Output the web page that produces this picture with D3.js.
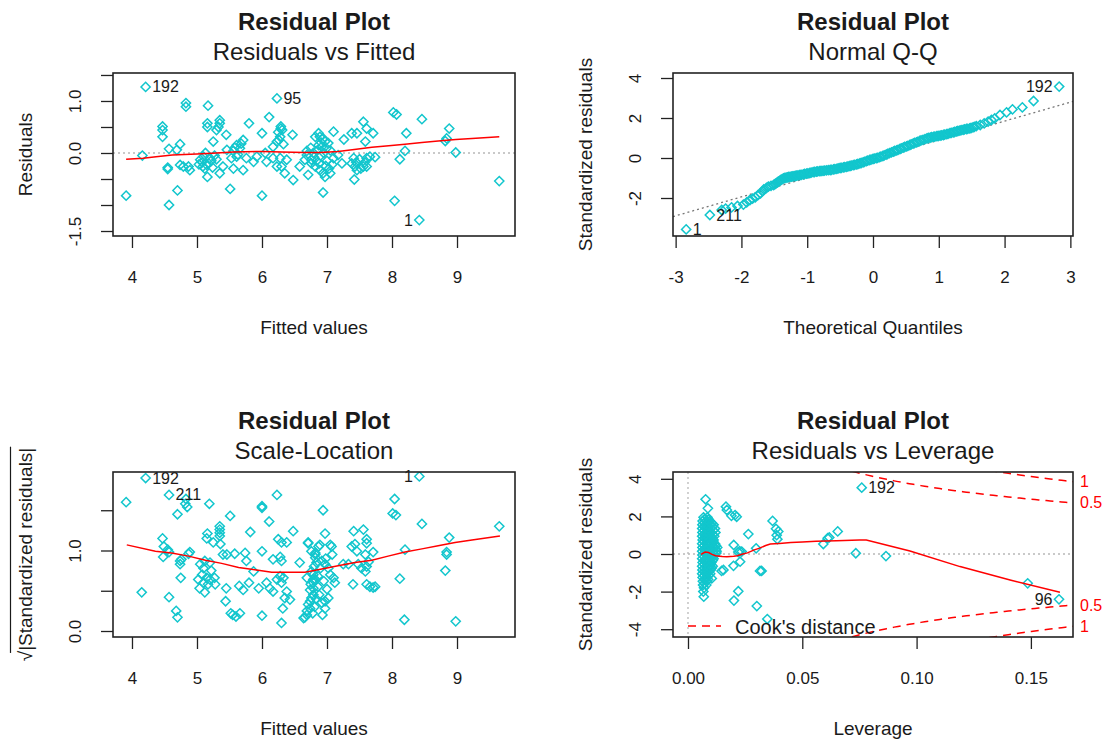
<!DOCTYPE html>
<html>
<head>
<meta charset="utf-8">
<script src="https://cdn.jsdelivr.net/npm/d3@7"></script>
<style>
  html, body { margin: 0; padding: 0; background: #fff; }
  svg { display: block; }
  text { font-family: 'Liberation Sans', Arial, Helvetica, sans-serif; fill: #1a1a1a; }
</style>
</head>
<body>
<svg id="chart" width="1107" height="742"></svg>
<script>
// ---------- Residuals vs Fitted: [fitted, residual] ----------
const rvfPoints = [
  [4.21,1.27],[6.23,1.05],[8.42,-1.29],
  [3.91,-0.82],[4.16,-0.05],[4.47,0.51],[4.47,0.44],[4.47,0.31],[4.57,0.08],[4.55,-0.31],[4.55,-0.28],
  [4.57,-1.00],[4.70,-0.72],[4.74,0.17],[4.69,0.06],[4.74,-0.23],[4.83,0.96],[4.83,0.89],[4.89,-0.33],
  [4.79,-0.26],[4.87,-0.26],[5.17,0.91],[5.16,0.57],[5.16,0.50],[5.35,0.63],[5.35,0.57],[5.33,0.50],
  [5.30,0.44],[5.25,0.22],[5.45,0.35],[5.20,-0.10],[5.10,-0.07],[5.05,-0.13],[5.15,-0.23],[5.12,-0.30],
  [5.16,-0.46],[5.35,-0.39],[5.51,-0.69],[5.40,-0.26],[5.56,0.04],[5.61,-0.07],[5.66,0.09],[5.71,0.25],
  [5.61,0.15],[5.46,0.06],[5.53,-0.10],[5.56,-0.30],[5.71,-0.33],[5.80,0.57],[5.92,-0.07],[5.87,-0.17],
  [5.76,-0.10],[6.00,-0.82],[6.00,0.38],[6.11,0.69],[6.29,0.51],[6.29,0.47],[6.28,0.31],[6.23,0.22],
  [6.33,0.17],[6.17,0.12],[6.05,0.00],[6.07,-0.17],[6.17,-0.10],[6.28,-0.10],[6.38,-0.13],[6.30,-0.26],
  [6.23,-0.26],[6.47,0.35],[6.48,-0.52],[6.35,-0.39],[6.58,-0.26],[6.71,-0.42],[6.69,0.04],[6.79,0.00],
  [6.76,-0.13],[5.08,-0.18],[5.22,-0.15],[5.27,-0.05],[5.13,0.00],[5.58,0.10],[5.63,-0.03],[5.68,0.18],
  [6.69,-0.04],[6.66,-0.13],[6.87,0.38],[6.89,0.31],[6.94,0.28],[6.97,0.22],[7.02,0.19],[7.10,0.41],
  [6.99,0.09],[6.87,0.15],[6.82,0.31],[6.76,-0.20],[6.82,-0.26],[6.89,-0.33],[6.94,-0.39],[6.97,-0.46],
  [7.05,-0.39],[6.94,-0.76],[7.10,-0.10],[7.17,-0.04],[7.23,-0.20],[7.26,0.26],[7.38,0.38],[7.46,0.38],
  [7.56,0.60],[7.61,0.47],[7.71,0.38],[7.59,0.22],[7.41,-0.10],[7.38,-0.20],[7.43,-0.26],[7.46,-0.33],
  [7.56,-0.26],[7.61,-0.10],[7.66,-0.07],[7.74,-0.08],[7.61,-0.26],[7.42,-0.51],[8.02,0.78],[8.07,0.74],
  [8.22,0.38],[8.46,0.65],[8.20,0.04],[8.12,-0.12],[8.04,-0.92],[8.82,0.23],[8.84,0.28],[8.88,0.47],
  [8.98,0.01],[9.65,-0.54],[6.85,0.05],[6.90,-0.05],[6.95,0.00],[7.00,-0.15],[6.80,-0.08],[6.92,0.12],
  [7.05,0.05],[6.75,0.10],[5.03,-0.22],[5.18,-0.20],[5.24,-0.28],[5.09,-0.26],[5.30,-0.12],[6.25,0.40],
  [6.31,0.44],[6.26,0.25],[6.84,-0.15],[6.98,-0.25],[7.03,-0.30],[6.91,0.20],[7.08,-0.22],[6.88,-0.20],
  [7.45,-0.18],[7.52,-0.30],[7.50,-0.12],[7.58,-0.18]
];
const rvfLabels = [[0, "192", "right"], [1, "95", "right"], [2, "1", "left"]];
const rvfSmooth = [
  [3.91,-0.12],[4.17,-0.10],[4.37,-0.07],[4.62,-0.04],[5.00,-0.02],[5.30,0.00],[5.56,0.02],[6.02,0.03],
  [6.30,0.02],[6.66,0.01],[6.90,0.01],[7.17,0.03],[7.45,0.07],[7.69,0.11],[7.95,0.14],[8.20,0.17],
  [8.46,0.20],[8.71,0.23],[8.98,0.26],[9.23,0.28],[9.65,0.31]
];

// ---------- Normal Q-Q: [theoretical quantile, standardized residual] ----------
const qqPoints = [
  [-2.84,-3.57],[-2.48,-2.85],[-2.30,-2.60],[-2.24,-2.53],[-2.15,-2.47],[-2.06,-2.40],[-1.97,-2.33],
  [-1.92,-2.22],[-1.87,-2.10],[-1.83,-2.03],[-1.79,-1.97],[-1.75,-1.86],[-1.71,-1.77],[-1.68,-1.66],
  [-1.66,-1.57],[-1.62,-1.50],[-1.59,-1.43],[-1.55,-1.39],[-1.51,-1.35],[-1.47,-1.26],[-1.44,-1.18],
  [-1.40,-1.10],[-1.36,-1.02],[-1.32,-0.98],[-1.28,-0.95],[-1.24,-0.93],[-1.20,-0.91],[-1.16,-0.88],
  [-1.11,-0.85],[-1.06,-0.82],[-1.01,-0.78],[-0.96,-0.75],[-0.91,-0.71],[-0.86,-0.68],[-0.81,-0.66],
  [-0.76,-0.64],[-0.71,-0.62],[-0.65,-0.60],[-0.60,-0.57],[-0.55,-0.54],[-0.50,-0.50],[-0.45,-0.47],
  [-0.40,-0.44],[-0.35,-0.40],[-0.30,-0.36],[-0.25,-0.32],[-0.20,-0.27],[-0.15,-0.22],[-0.10,-0.16],
  [-0.05,-0.10],[0.00,-0.05],[0.05,-0.01],[0.10,0.04],[0.15,0.10],[0.20,0.17],[0.25,0.24],[0.31,0.32],
  [0.36,0.38],[0.41,0.45],[0.46,0.52],[0.51,0.58],[0.56,0.65],[0.61,0.72],[0.66,0.78],[0.71,0.85],
  [0.76,0.91],[0.82,0.98],[0.87,1.02],[0.92,1.06],[0.97,1.09],[1.02,1.12],[1.07,1.15],[1.12,1.19],
  [1.17,1.24],[1.22,1.28],[1.27,1.33],[1.32,1.37],[1.37,1.41],[1.42,1.45],[1.47,1.48],[1.52,1.53],
  [1.57,1.59],[1.63,1.65],[1.69,1.73],[1.75,1.82],[1.80,1.90],[1.85,1.98],[1.93,2.15],[2.03,2.28],
  [2.12,2.43],[2.27,2.53],[2.44,2.85],[2.83,3.57],
  [-1.49,-1.31],[-1.45,-1.22],[-1.42,-1.14],[-1.38,-1.06],[-1.34,-1.00],[-1.30,-0.97],[-1.26,-0.94],
  [-1.22,-0.92],[-1.18,-0.90],[-1.14,-0.87],[-1.09,-0.84],[-1.04,-0.80],[-0.99,-0.77],[-0.94,-0.73],
  [-0.89,-0.70],[-0.84,-0.67],[-0.79,-0.65],[-0.74,-0.63],[-0.68,-0.61],[-0.63,-0.59],[-0.58,-0.56],
  [-0.53,-0.52],[-0.48,-0.49],[-0.43,-0.46],[-0.38,-0.42],[-0.33,-0.38],[-0.28,-0.34],[-0.23,-0.30],
  [-0.18,-0.25],[-0.13,-0.19],[-0.08,-0.13],[-0.03,-0.08],[0.02,-0.03],[0.07,0.01],[0.12,0.07],
  [0.17,0.13],[0.22,0.20],[0.28,0.28],[0.33,0.35],[0.38,0.41],[0.43,0.48],[0.48,0.55],[0.53,0.61],
  [0.58,0.68],[0.63,0.75],[0.68,0.81],[0.73,0.88],[0.79,0.94],[0.84,1.00],[0.89,1.04],[0.94,1.07],
  [0.99,1.10],[1.04,1.13],[1.09,1.17],[1.14,1.21],[1.19,1.26],[1.24,1.30],[1.29,1.35],[1.34,1.39],
  [1.39,1.43],[1.44,1.46],[1.49,1.50],[1.54,1.56]
];
const qqLabels = [[0, "1", "right"], [1, "211", "right"], [92, "192", "left"]];
const qqLineIntercept = -0.05;
const qqLineSlope = 0.947;

// ---------- Scale-Location: [fitted, sqrt|standardized residual|] ----------
const slPoints = [
  [4.21,1.90],[4.57,1.69],[8.42,1.92],
  [3.91,1.60],[4.83,1.64],[4.82,1.58],[4.85,1.54],[4.70,1.45],[5.19,1.58],[5.51,1.43],[6.00,1.55],
  [6.00,1.53],[6.23,1.69],[6.11,1.36],[6.48,1.24],[5.82,1.23],[4.47,1.15],[4.49,1.05],[4.48,0.92],
  [4.57,0.98],[4.55,1.01],[4.15,0.48],[4.57,0.42],[4.68,0.25],[4.70,0.17],[4.74,0.87],[4.74,0.83],
  [4.76,0.89],[4.87,0.96],[4.89,0.98],[4.75,0.66],[5.16,1.21],[5.15,1.15],[5.25,1.10],[5.35,1.30],
  [5.35,1.26],[5.35,1.22],[5.35,1.18],[5.36,1.08],[5.40,0.95],[5.46,0.95],[5.05,0.83],[5.10,0.78],
  [5.12,0.87],[5.20,0.85],[5.02,0.64],[5.10,0.60],[5.15,0.66],[5.17,0.58],[5.04,0.53],[5.20,0.64],
  [5.27,0.66],[5.44,0.37],[5.45,0.53],[5.52,0.22],[5.60,0.18],[5.66,0.22],[5.55,0.20],[5.58,0.96],
  [5.74,0.97],[5.76,0.87],[5.65,0.56],[5.71,0.51],[5.80,0.60],[5.87,0.74],[5.95,0.53],[6.00,0.99],
  [6.00,0.19],[6.07,0.60],[6.12,0.53],[6.17,0.49],[6.23,0.64],[6.28,0.68],[6.30,0.60],[6.33,0.66],
  [6.38,0.49],[6.35,0.41],[6.43,0.39],[6.32,0.28],[6.17,0.89],[6.28,0.92],[6.30,0.87],[6.25,1.14],
  [6.30,1.10],[6.38,1.10],[6.30,0.10],[6.58,0.85],[6.71,1.09],[6.69,0.66],[6.64,0.16],[6.69,0.20],
  [6.74,0.28],[6.74,0.37],[6.76,0.41],[6.79,0.45],[6.79,0.53],[6.79,0.60],[6.79,0.64],[6.79,0.70],
  [6.82,0.97],[6.82,0.91],[8.04,1.64],[8.01,1.46],[8.06,1.44],[8.46,1.33],[9.65,1.30],[6.94,1.50],
  [6.97,1.21],[6.71,1.10],[7.41,1.24],[7.56,1.26],[7.61,1.14],[7.71,0.98],[7.61,1.09],[7.43,1.08],
  [7.38,1.05],[7.46,0.99],[7.59,0.95],[8.20,1.01],[8.88,1.16],[8.84,0.98],[8.84,0.95],[8.82,0.75],
  [8.12,0.65],[8.19,0.14],[8.98,0.12],[7.40,0.58],[7.61,0.58],[7.66,0.55],[7.71,0.54],[7.74,0.55],
  [7.59,0.74],[7.61,0.80],[7.64,0.86],[7.53,0.78],[7.48,0.83],[7.33,0.83],[7.25,0.83],[6.97,0.28],
  [7.02,0.41],[6.97,0.37],[7.12,0.60],[7.10,0.66],[7.05,0.70],[7.02,0.78],[6.97,0.83],[6.92,0.87],
  [6.82,0.95],[6.76,0.99],[6.87,1.05],[6.89,1.07],[7.05,1.07],[7.07,1.05],[6.76,0.74],[6.82,0.64],
  [6.74,0.51],[6.71,0.33],[6.69,0.25],[6.66,0.17],[6.86,0.68],[6.90,0.78],[6.95,0.62],[7.00,0.52],
  [6.88,0.45],[6.92,0.35],[6.98,0.90],[7.08,0.95],[6.84,0.85],[6.93,0.20],[6.78,0.22],[6.81,0.30],
  [6.83,0.40],[6.86,0.55],[6.80,0.80],[6.75,0.58],[5.08,0.70],[5.22,0.75],[5.28,0.58],[5.12,0.48]
];
const slLabels = [[0, "192", "right"], [1, "211", "right"], [2, "1", "left"]];
const slSmooth = [
  [3.92,1.07],[4.36,0.99],[4.61,0.97],[4.87,0.93],[5.13,0.88],[5.38,0.84],[5.64,0.79],[5.89,0.76],
  [6.15,0.73],[6.41,0.73],[6.66,0.73],[6.92,0.77],[7.17,0.81],[7.43,0.85],[7.69,0.88],[7.94,0.93],
  [8.20,0.98],[8.46,1.02],[8.71,1.06],[8.97,1.10],[9.23,1.13],[9.66,1.18]
];

// ---------- Residuals vs Leverage: [leverage, standardized residual] ----------
const rvlPoints = [
  [0.0760,3.53],[0.1623,-2.41],
  [0.0077,2.91],[0.0087,2.43],
  [0.0068,1.95],[0.0085,1.95],
  [0.0064,1.75],[0.0080,1.75],[0.0095,1.75],
  [0.0063,1.55],[0.0078,1.55],[0.0098,1.55],[0.0112,1.55],
  [0.0062,1.35],[0.0080,1.35],[0.0100,1.35],[0.0118,1.35],
  [0.0063,1.15],[0.0082,1.15],[0.0102,1.15],[0.0120,1.15],
  [0.0062,0.95],[0.0078,0.95],[0.0096,0.95],[0.0115,0.95],
  [0.0064,0.75],[0.0080,0.75],[0.0100,0.75],[0.0112,0.75],
  [0.0062,0.55],[0.0082,0.55],[0.0104,0.55],[0.0118,0.55],
  [0.0063,0.35],[0.0080,0.35],[0.0098,0.35],[0.0116,0.35],[0.0128,0.35],
  [0.0062,0.15],[0.0079,0.15],[0.0096,0.15],[0.0113,0.15],[0.0125,0.15],
  [0.0063,-0.05],[0.0081,-0.05],[0.0099,-0.05],[0.0117,-0.05],
  [0.0062,-0.25],[0.0080,-0.25],[0.0100,-0.25],[0.0112,-0.25],
  [0.0064,-0.45],[0.0082,-0.45],[0.0102,-0.45],
  [0.0062,-0.65],[0.0079,-0.65],[0.0096,-0.65],[0.0108,-0.65],
  [0.0063,-0.85],[0.0081,-0.85],[0.0099,-0.85],
  [0.0062,-1.05],[0.0080,-1.05],[0.0097,-1.05],
  [0.0064,-1.25],[0.0083,-1.25],[0.0104,-1.30],
  [0.0065,-1.45],[0.0082,-1.45],
  [0.0066,-1.65],[0.0080,-1.65],
  [0.0067,-2.00],[0.0069,-2.27],
  [0.0072,1.85],[0.0090,1.85],
  [0.0071,1.65],[0.0088,1.65],[0.0104,1.65],
  [0.0070,1.45],[0.0089,1.45],[0.0106,1.45],
  [0.0071,1.25],[0.0090,1.25],[0.0110,1.25],
  [0.0070,1.05],[0.0088,1.05],[0.0108,1.05],
  [0.0071,0.85],[0.0089,0.85],[0.0106,0.85],
  [0.0070,0.65],[0.0091,0.65],[0.0110,0.65],
  [0.0071,0.45],[0.0089,0.45],[0.0108,0.45],[0.0122,0.45],
  [0.0070,0.25],[0.0088,0.25],[0.0106,0.25],[0.0121,0.25],
  [0.0072,0.05],[0.0090,0.05],[0.0108,0.05],[0.0124,0.05],
  [0.0071,-0.15],[0.0089,-0.15],[0.0106,-0.15],
  [0.0070,-0.35],[0.0090,-0.35],[0.0108,-0.35],
  [0.0071,-0.55],[0.0088,-0.55],[0.0100,-0.55],
  [0.0072,-0.75],[0.0089,-0.75],[0.0104,-0.75],
  [0.0070,-0.95],[0.0088,-0.95],
  [0.0071,-1.15],[0.0090,-1.15],
  [0.0073,-1.35],[0.0088,-1.35],
  [0.0072,-1.55],[0.0070,-1.80],
  [0.0076,1.40],[0.0094,1.10],[0.0075,0.80],[0.0094,0.50],[0.0076,0.20],[0.0094,-0.10],
  [0.0075,-0.40],[0.0094,-0.70],[0.0076,-1.00],[0.0077,-1.30],[0.0094,1.70],[0.0076,1.00],
  [0.0166,2.52],[0.0170,2.34],[0.0206,2.07],[0.0213,1.98],[0.0190,2.03],[0.0264,1.06],[0.0200,0.48],
  [0.0226,0.15],[0.0235,0.13],[0.0220,0.10],[0.0298,0.30],[0.0228,-0.41],[0.0199,-0.63],[0.0155,-0.85],
  [0.0147,-0.90],[0.0322,-0.90],[0.0315,-0.90],[0.0220,-1.98],[0.0201,-2.48],[0.0301,-2.77],
  [0.0347,-3.46],[0.0370,1.76],[0.0385,1.34],[0.0388,1.00],[0.0391,0.79],[0.0395,1.20],[0.0592,0.53],
  [0.0611,0.84],[0.0618,0.88],[0.0655,1.20],[0.0734,0.04],[0.0866,-0.11],[0.1486,-1.56]
];
const rvlLabels = [[0, "192", "right"], [1, "96", "left"]];
const rvlSmooth = [
  [0.0057,-0.02],[0.0075,0.10],[0.0090,0.08],[0.0105,-0.02],[0.0120,-0.09],[0.0150,-0.13],[0.0170,-0.15],
  [0.0200,-0.12],[0.0215,-0.09],[0.0240,0.00],[0.0260,0.06],[0.0290,0.22],[0.0310,0.30],[0.0340,0.45],
  [0.0360,0.53],[0.0400,0.56],[0.0450,0.61],[0.0500,0.64],[0.0560,0.68],[0.0650,0.71],[0.0750,0.74],
  [0.0780,0.74],[0.0971,0.16],[0.1190,-0.67],[0.1409,-1.38],[0.1627,-2.04]
];
const cookLevels = [0.5, 1];
const modelRank = 3;

// ---------- tick values ----------
const fittedTicks = [4, 5, 6, 7, 8, 9];
const residTicks = [-1.5, -1, -0.5, 0, 0.5, 1, 1.5];
const residTickLabels = [-1.5, 0, 1];
const qqXTicks = [-3, -2, -1, 0, 1, 2, 3];
const stdTicks = [-4, -2, 0, 2, 4];
const rootTicks = [0, 0.5, 1, 1.5];
const rootTickLabels = [0, 1];
const leverageTicks = [0, 0.05, 0.1, 0.15];

// ---------- drawing ----------
const FONT = "'Liberation Sans', Arial, Helvetica, sans-serif";
const POINT = "#12c6cd";
const RED = "#ff0000";
const GREY = "#b8b8b8";
const svg = d3.select("#chart");
svg.append("rect").attr("width", 1107).attr("height", 742).attr("fill", "#fff");

const diamond = r => `M0,${-r}L${r},0L0,${r}L${-r},0Z`;

function panel(opt) {
  const { id, left, top, width, height } = opt;
  const x = d3.scaleLinear().domain(opt.xDomain).range([left, left + width]);
  const y = d3.scaleLinear().domain(opt.yDomain).range([top + height, top]);
  const g = svg.append("g").attr("id", id);

  svg.append("clipPath").attr("id", id + "-clip")
    .append("rect").attr("x", left).attr("y", top).attr("width", width).attr("height", height);
  const plot = g.append("g").attr("clip-path", `url(#${id}-clip)`);

  // bottom axis
  const xa = g.append("g").attr("transform", `translate(0,${top + height})`)
    .call(d3.axisBottom(x).tickValues(opt.xTicks).tickSize(12).tickSizeOuter(0).tickFormat(opt.xFormat));
  xa.select(".domain").remove();
  xa.selectAll(".tick line").attr("stroke", "#222").attr("stroke-width", 1.3);
  xa.selectAll(".tick text").attr("y", 41).attr("dy", null)
    .attr("dominant-baseline", "central").attr("text-anchor", "middle")
    .style("font-size", "17px").style("font-family", FONT).attr("fill", "#1a1a1a");

  // left axis, labels parallel to the axis
  const ya = g.append("g").attr("transform", `translate(${left},0)`)
    .call(d3.axisLeft(y).tickValues(opt.yTicks).tickSize(12).tickSizeOuter(0).tickFormat(opt.yFormat));
  ya.select(".domain").remove();
  ya.selectAll(".tick line").attr("stroke", "#222").attr("stroke-width", 1.3);
  ya.selectAll(".tick text").attr("x", 0).attr("dy", null)
    .attr("transform", "translate(-38,0) rotate(-90)")
    .attr("dominant-baseline", "central").attr("text-anchor", "middle")
    .style("font-size", "17px").style("font-family", FONT).attr("fill", "#1a1a1a");

  // titles
  g.append("text").attr("x", left + width / 2).attr("y", top - 52)
    .attr("text-anchor", "middle").attr("dominant-baseline", "central")
    .style("font-size", "24px").style("font-weight", "bold").text("Residual Plot");
  g.append("text").attr("x", left + width / 2).attr("y", top - 22)
    .attr("text-anchor", "middle").attr("dominant-baseline", "central")
    .style("font-size", "24px").text(opt.caption);

  // axis titles
  g.append("text").attr("x", left + width / 2).attr("y", top + height + 91)
    .attr("text-anchor", "middle").attr("dominant-baseline", "central")
    .style("font-size", "19px").text(opt.xTitle);
  const yt = g.append("g").attr("transform", `translate(${left - 88},${top + height / 2}) rotate(-90)`);
  const ytText = yt.append("text").attr("text-anchor", "middle").attr("dominant-baseline", "central")
    .style("font-size", "19px").text(opt.yTitle);
  if (opt.radical) {
    // overbar of the square-root sign
    const node = ytText.node();
    const L = node.getComputedTextLength();
    const wr = node.getSubStringLength(0, 1);
    yt.append("line").attr("x1", -L / 2 + wr * 0.8).attr("x2", L / 2 + 1)
      .attr("y1", -14.5).attr("y2", -14.5).attr("stroke", "#1a1a1a").attr("stroke-width", 1.2);
  }

  return { x, y, g, plot, left, top, width, height };
}

function drawPoints(p, data, labels) {
  p.plot.selectAll("path.pt").data(data).join("path")
    .attr("class", "pt")
    .attr("d", diamond(4.6))
    .attr("transform", d => `translate(${p.x(d[0])},${p.y(d[1])})`)
    .attr("fill", "none").attr("stroke", POINT).attr("stroke-width", 1.5);
  p.g.selectAll("text.id").data(labels).join("text")
    .attr("class", "id")
    .attr("x", l => p.x(data[l[0]][0]) + (l[2] === "right" ? 6.5 : -6.5))
    .attr("y", l => p.y(data[l[0]][1]))
    .attr("text-anchor", l => l[2] === "right" ? "start" : "end")
    .attr("dominant-baseline", "central")
    .style("font-size", "16px").text(l => l[1]);
}

function drawSmooth(p, data) {
  p.plot.append("path").datum(data)
    .attr("d", d3.line().x(d => p.x(d[0])).y(d => p.y(d[1])))
    .attr("fill", "none").attr("stroke", RED).attr("stroke-width", 1.5);
}

function drawBox(p) {
  p.g.append("rect").attr("x", p.left).attr("y", p.top).attr("width", p.width).attr("height", p.height)
    .attr("fill", "none").attr("stroke", "#222").attr("stroke-width", 1.6);
}

function hLine(p, v) {
  p.plot.append("line").attr("x1", p.left).attr("x2", p.left + p.width)
    .attr("y1", p.y(v)).attr("y2", p.y(v))
    .attr("stroke", GREY).attr("stroke-width", 1.3).attr("stroke-dasharray", "2,3");
}
function vLine(p, v) {
  p.plot.append("line").attr("y1", p.top).attr("y2", p.top + p.height)
    .attr("x1", p.x(v)).attr("x2", p.x(v))
    .attr("stroke", GREY).attr("stroke-width", 1.3).attr("stroke-dasharray", "2,3");
}

const fmt1 = d => d.toFixed(1);
const fmtInt = d => String(d);

// Residuals vs Fitted
const p1 = panel({
  id: "rvf", left: 113, top: 73, width: 402, height: 163,
  xDomain: [3.708, 9.892], yDomain: [-1.596, 1.538],
  xTicks: fittedTicks, yTicks: residTicks,
  xFormat: fmtInt, yFormat: d => residTickLabels.includes(d) ? fmt1(d) : "",
  caption: "Residuals vs Fitted", xTitle: "Fitted values", yTitle: "Residuals"
});
hLine(p1, 0);
drawPoints(p1, rvfPoints, rvfLabels);
drawSmooth(p1, rvfSmooth);
drawBox(p1);

// Normal Q-Q
const p2 = panel({
  id: "qq", left: 673, top: 73, width: 400, height: 163,
  xDomain: [-3.04, 3.04], yDomain: [-3.9, 4.25],
  xTicks: qqXTicks, yTicks: stdTicks.filter(v => v > -3.9 && v < 4.25),
  xFormat: fmtInt, yFormat: fmtInt,
  caption: "Normal Q-Q", xTitle: "Theoretical Quantiles", yTitle: "Standardized residuals"
});
p2.plot.append("line")
  .attr("x1", p2.x(-3.04)).attr("y1", p2.y(qqLineIntercept + qqLineSlope * -3.04))
  .attr("x2", p2.x(3.04)).attr("y2", p2.y(qqLineIntercept + qqLineSlope * 3.04))
  .attr("stroke", "#777").attr("stroke-width", 1.3).attr("stroke-dasharray", "2,3");
drawPoints(p2, qqPoints, qqLabels);
drawBox(p2);

// Scale-Location
const p3 = panel({
  id: "sl", left: 113, top: 472, width: 402, height: 165,
  xDomain: [3.708, 9.892], yDomain: [-0.0745, 1.975],
  xTicks: fittedTicks, yTicks: rootTicks,
  xFormat: fmtInt, yFormat: d => rootTickLabels.includes(d) ? fmt1(d) : "",
  caption: "Scale-Location", xTitle: "Fitted values", yTitle: "\u221A|Standardized residuals|",
  radical: true
});
drawPoints(p3, slPoints, slLabels);
drawSmooth(p3, slSmooth);
drawBox(p3);

// Residuals vs Leverage
const p4 = panel({
  id: "rvl", left: 673, top: 472, width: 400, height: 165,
  xDomain: [-0.00656, 0.16842], yDomain: [-4.415, 4.362],
  xTicks: leverageTicks, yTicks: stdTicks,
  xFormat: d => d.toFixed(2), yFormat: fmtInt,
  caption: "Residuals vs Leverage", xTitle: "Leverage", yTitle: "Standardized residuals"
});
hLine(p4, 0);
vLine(p4, 0);
drawPoints(p4, rvlPoints, rvlLabels);
drawSmooth(p4, rvlSmooth);

// Cook's distance contours
const hMax = p4.x.domain()[1];
const hh = d3.range(101).map(i => 0.002 + (hMax - 0.002) * i / 100);
cookLevels.forEach(level => {
  [1, -1].forEach(sign => {
    p4.plot.append("path")
      .datum(hh.map(h => [h, sign * Math.sqrt(level * modelRank * (1 - h) / h)]))
      .attr("d", d3.line().x(d => p4.x(d[0])).y(d => p4.y(d[1])))
      .attr("fill", "none").attr("stroke", RED).attr("stroke-width", 1.5)
      .attr("stroke-dasharray", "8,6");
  });
});
const yMult = Math.sqrt(modelRank * (1 - hMax) / hMax);
cookLevels.forEach(level => {
  [1, -1].forEach(sign => {
    p4.g.append("text")
      .attr("x", p4.left + p4.width + 7)
      .attr("y", p4.y(sign * Math.sqrt(level) * yMult))
      .attr("dominant-baseline", "central")
      .attr("fill", RED).style("fill", RED)
      .style("font-size", "16px").text(String(level));
  });
});
// legend
p4.g.append("line").attr("x1", 688).attr("x2", 721).attr("y1", 626).attr("y2", 626)
  .attr("stroke", RED).attr("stroke-width", 1.5).attr("stroke-dasharray", "8,6");
p4.g.append("text").attr("x", 735).attr("y", 627).attr("dominant-baseline", "central")
  .style("font-size", "20px").text("Cook's distance");
drawBox(p4);
</script>
</body>
</html>
